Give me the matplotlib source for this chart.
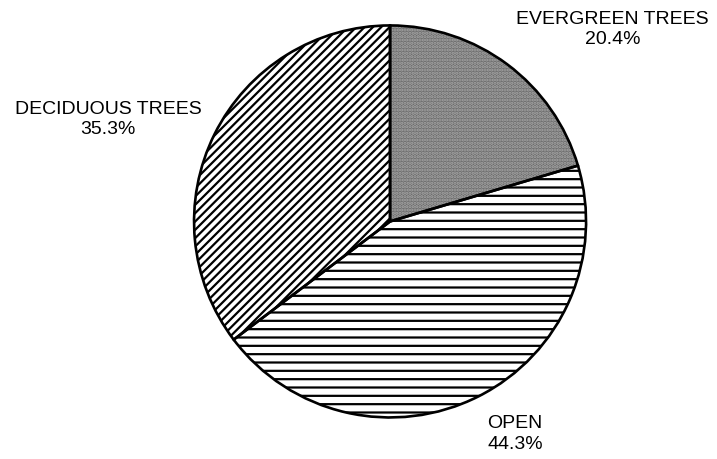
import matplotlib.pyplot as plt

plt.rcParams['font.family'] = ['Liberation Sans', 'DejaVu Sans']

labels = ['EVERGREEN TREES', 'OPEN', 'DECIDUOUS TREES']
shares = [20.4, 44.3, 35.3]
hatches = ['.....', '--', '////']
faces = ['#6c6c6c', 'white', 'white']
hatch_cols = ['#a8a8a8', 'black', 'black']
# label spots in units of the radius
label_xy = [(1.135, 0.985), (0.638, -1.079), (-1.439, 0.526)]

fig = plt.figure(figsize=(7.17, 4.6), dpi=100)
ax = fig.add_axes([0, 0, 1, 1])

plt.rcParams['hatch.linewidth'] = 1.6
wedges, _ = ax.pie(shares, startangle=90, counterclock=False, radius=1,
                   wedgeprops=dict(linewidth=0))
for w, h, fc, hc in zip(wedges, hatches, faces, hatch_cols):
    w.set_facecolor(fc)
    w.set_edgecolor(hc)
    w.set_hatch(h)

# outlines on top
ax.pie(shares, startangle=90, counterclock=False, radius=1,
       wedgeprops=dict(fill=False, edgecolor='black', linewidth=1.9))

for lab, val, (x, y) in zip(labels, shares, label_xy):
    ax.text(x, y, f'{lab}\n{val:.1f}%', ha='center', va='center',
            fontsize=14, linespacing=1.25)

ax.set_aspect('auto')
ax.set_xlim(-1.990, 1.668)
ax.set_ylim(-1.212, 1.135)
ax.axis('off')

fig.savefig('out.png', dpi=100)
